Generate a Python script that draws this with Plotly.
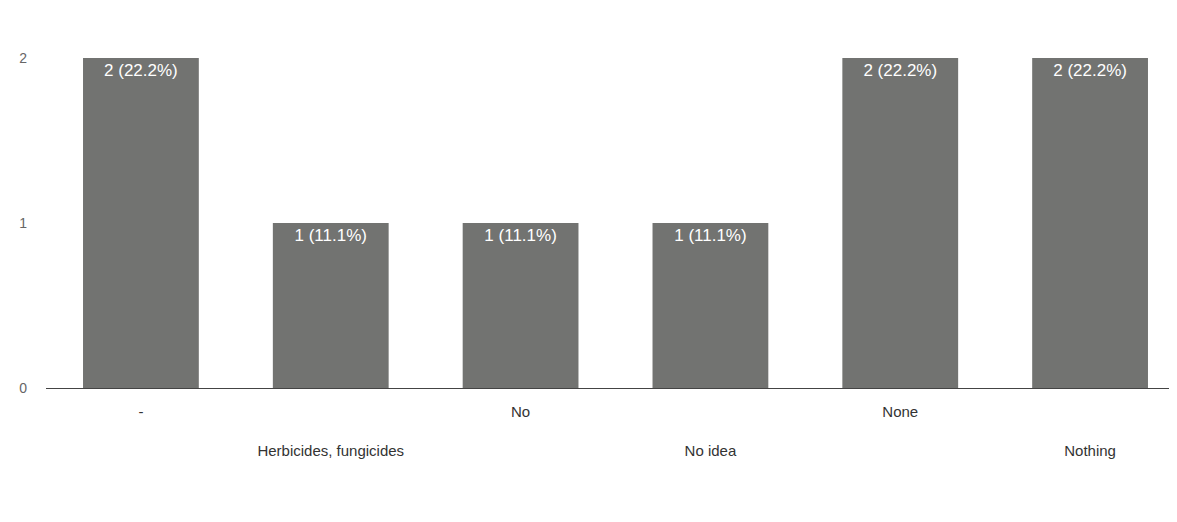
import plotly.graph_objects as go

categories = ["-", "Herbicides, fungicides", "No", "No idea", "None", "Nothing"]
counts = [2, 1, 1, 1, 2, 2]
total = sum(counts)
bar_labels = [f"{c} ({c / total * 100:.1f}%)" for c in counts]
# alternate rows for the category labels, as in the reference
tick_labels = [c if i % 2 == 0 else "<br><br>" + c for i, c in enumerate(categories)]
y_ticks = [0, 1, 2]

fig = go.Figure(
    go.Bar(
        x=categories,
        y=counts,
        text=bar_labels,
        textposition="inside",
        insidetextanchor="end",
        textangle=0,
        textfont=dict(color="white", size=17, family="Liberation Sans, Arial"),
        marker=dict(color="#727371", line=dict(width=0)),
        hoverinfo="skip",
    )
)

fig.update_layout(
    width=1177,
    height=522,
    margin=dict(l=38, r=0, t=50, b=142),
    paper_bgcolor="white",
    plot_bgcolor="white",
    bargap=0.39,
    showlegend=False,
    font=dict(family="Liberation Sans, Arial", color="#333333", size=15),
)
fig.update_xaxes(
    tickmode="array",
    tickvals=categories,
    ticktext=tick_labels,
    showgrid=False,
    showline=True,
    linecolor="#444444",
    linewidth=1,
    ticks="",
    ticklabelstandoff=10,
    automargin=False,
    tickfont=dict(size=15, color="#333333"),
)
fig.update_yaxes(
    range=[0, 2],
    tickvals=y_ticks,
    showgrid=False,
    zeroline=False,
    showline=False,
    ticks="",
    ticklabelstandoff=18,
    automargin=False,
    tickfont=dict(size=14, color="#666666"),
)

fig.write_html("out.html")
